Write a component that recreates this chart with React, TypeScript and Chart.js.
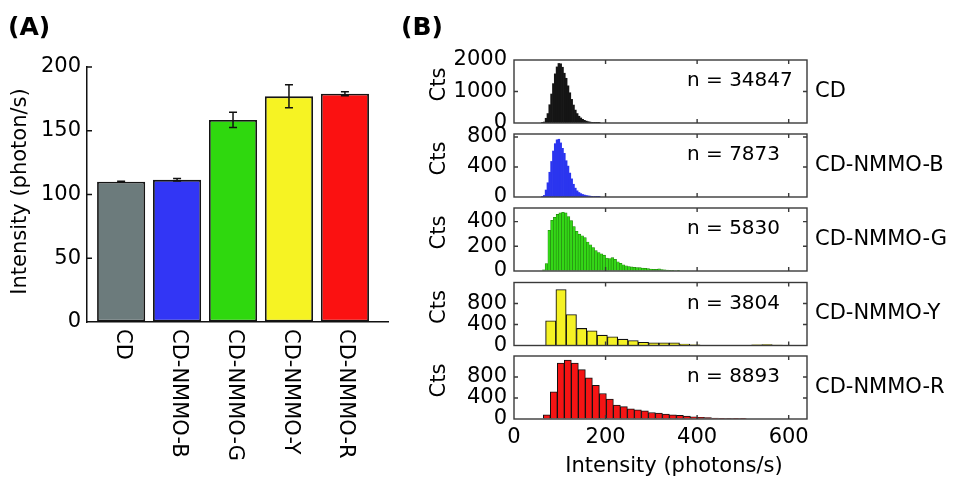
import React, { useEffect, useRef } from "react";
import { Chart, registerables } from "chart.js";

Chart.register(...registerables);

const FONT = "'DejaVu Sans', 'Liberation Sans', sans-serif";
Chart.defaults.font.family = FONT;
Chart.defaults.color = "#000";

const PAGE_W = 967;
const PAGE_H = 478;

// ---------- Panel (A) data ----------
const barCategories = ["CD", "CD-NMMO-B", "CD-NMMO-G", "CD-NMMO-Y", "CD-NMMO-R"];
const barValues = [110, 111.5, 158.5, 177, 179];
const barErrors = [0.3, 1, 6, 9, 1.5];
const barColors = ["#6c7b7c", "#3236f5", "#2fd80e", "#f6f323", "#fb1111"];
const barYTicks = [0, 50, 100, 150, 200];

// ---------- Panel (B) data ----------
const histXTicks = [0, 200, 400, 600];
const histNames = ["CD", "CD-NMMO-B", "CD-NMMO-G", "CD-NMMO-Y", "CD-NMMO-R"];
const histN = ["n = 34847", "n = 7873", "n = 5830", "n = 3804", "n = 8893"];
const histYMax = [2000, 840, 510, 1200, 1200];
const cdYTicks = [0, 1000, 2000];
const blueYTicks = [0, 400, 800];
const greenYTicks = [0, 200, 400];
const yellowYTicks = [0, 400, 800];
const redYTicks = [0, 400, 800];

const cdBins = [62, 66, 70, 74, 78, 82, 86, 90, 94, 98, 102, 106, 110, 114, 118, 122, 126, 130, 134, 138, 142, 146, 150, 154, 158, 162, 166, 170, 174, 178, 182, 186];
const cdCounts = [5, 30, 150, 300, 580, 920, 1250, 1560, 1780, 1890, 1880, 1770, 1580, 1420, 1180, 960, 750, 570, 410, 300, 215, 160, 117, 85, 60, 42, 30, 20, 12, 8, 5, 3];

const blueBins = [62, 66, 70, 74, 78, 82, 86, 90, 94, 98, 102, 106, 110, 114, 118, 122, 126, 130, 134, 138, 142, 146, 150, 154, 158, 162, 166, 170, 174, 178, 182, 186];
const blueCounts = [3, 21, 93, 190, 330, 474, 613, 711, 762, 770, 721, 649, 582, 484, 412, 319, 242, 170, 118, 82, 60, 45, 34, 26, 20, 15, 12, 9, 7, 5, 4, 3];

const greenBins = [65, 71, 77, 83, 89, 95, 101, 107, 113, 119, 125, 131, 137, 143, 149, 155, 161, 167, 173, 179, 185, 191, 197, 203, 209, 215, 221, 227, 233, 239, 245, 251, 257, 263, 269, 275, 281, 287, 293, 299, 305, 311, 317, 323, 329, 335, 341, 347, 353, 359];
const greenCounts = [10, 60, 330, 410, 435, 458, 470, 475, 470, 440, 408, 360, 322, 298, 285, 270, 235, 212, 190, 165, 150, 140, 128, 105, 100, 108, 95, 75, 62, 50, 42, 36, 33, 30, 28, 27, 24, 22, 19, 16, 14, 14, 17, 12, 9, 8, 6, 5, 4, 3];

const yellowBins = [80.25, 102.75, 125.25, 147.75, 170.25, 192.75, 215.25, 237.75, 260.25, 282.75, 305.25, 327.75, 350.25, 372.75, 395.25, 417.75, 440.25, 462.75, 485.25, 507.75, 530.25, 552.75, 575.25, 597.75];
const yellowCounts = [470, 1065, 590, 325, 280, 197, 165, 120, 95, 62, 52, 52, 52, 25, 12, 8, 6, 6, 6, 8, 12, 16, 10, 5];

const redBins = [71.7, 87.0, 102.3, 117.6, 132.9, 148.2, 163.5, 178.8, 194.1, 209.4, 224.7, 240.0, 255.3, 270.6, 285.9, 301.2, 316.5, 331.8, 347.1, 362.4, 377.7, 393.0, 408.3, 423.6, 438.9, 454.2, 469.5, 484.8, 500.1];
const redCounts = [80, 516, 1063, 1120, 1063, 939, 784, 640, 485, 379, 267, 236, 193, 174, 155, 124, 112, 93, 81, 68, 56, 43, 31, 25, 19, 12, 8, 5, 3];

// ---------- layout ----------
const A = { left: 87, right: 388, top: 67, bottom: 322 };
const B = { left: 514, right: 807, tops: [60, 134, 208, 282.5, 356], height: 63 };

const hists = [
  { bins: cdBins, counts: cdCounts, yTicks: cdYTicks, fill: "#151515", border: "#151515", bw: 0 },
  { bins: blueBins, counts: blueCounts, yTicks: blueYTicks, fill: "#2b35ef", border: "#2b35ef", bw: 0 },
  { bins: greenBins, counts: greenCounts, yTicks: greenYTicks, fill: "#33d816", border: "#1f7f0a", bw: 0.6 },
  { bins: yellowBins, counts: yellowCounts, yTicks: yellowYTicks, fill: "#f5f224", border: "#111", bw: 1.1 },
  { bins: redBins, counts: redCounts, yTicks: redYTicks, fill: "#f51414", border: "#111", bw: 1 },
];

const plainTick = (v: any) => String(v);

const panelAPlugin = {
  id: "panelA",
  afterDraw(chart: any) {
    const { ctx, chartArea } = chart;
    const x = chart.scales.x;
    const y = chart.scales.y;
    ctx.save();
    ctx.strokeStyle = "#111";
    ctx.lineWidth = 1.5;
    barValues.forEach((v, i) => {
      const px = x.getPixelForValue(i);
      const y1 = y.getPixelForValue(v + barErrors[i]);
      const y0 = y.getPixelForValue(v - barErrors[i]);
      ctx.beginPath();
      ctx.moveTo(px, y0);
      ctx.lineTo(px, y1);
      ctx.moveTo(px - 4, y0);
      ctx.lineTo(px + 4, y0);
      ctx.moveTo(px - 4, y1);
      ctx.lineTo(px + 4, y1);
      ctx.stroke();
    });
    ctx.beginPath();
    barYTicks.forEach((v) => {
      if (v > 0) {
        const py = y.getPixelForValue(v);
        ctx.moveTo(chartArea.left, py);
        ctx.lineTo(chartArea.left + 5, py);
      }
    });
    ctx.stroke();

    ctx.fillStyle = "#000";
    ctx.font = `21px ${FONT}`;
    ctx.textAlign = "left";
    ctx.textBaseline = "middle";
    barCategories.forEach((c, i) => {
      ctx.save();
      ctx.translate(x.getPixelForValue(i) + 1, chartArea.bottom + 7);
      ctx.rotate(Math.PI / 2);
      ctx.fillText(c, 0, 0);
      ctx.restore();
    });

    ctx.save();
    ctx.translate(21, 191.5);
    ctx.rotate(-Math.PI / 2);
    ctx.textAlign = "center";
    ctx.fillText("Intensity (photon/s)", 0, 0);
    ctx.restore();

    ctx.font = `bold 25px ${FONT}`;
    ctx.textAlign = "left";
    ctx.fillText("(A)", 8, 28);
    ctx.fillText("(B)", 401, 28);
    ctx.restore();
  },
};

function makeBarChart(): any {
  return {
    type: "bar",
    data: {
      datasets: [
        {
          data: barValues.map((v, i) => ({ x: i, y: v })),
          backgroundColor: barColors,
          borderColor: "#151515",
          borderWidth: 1.8,
          borderSkipped: false,
          barPercentage: 0.86,
          categoryPercentage: 1,
        },
      ],
    },
    options: {
      responsive: false,
      animation: false,
      devicePixelRatio: 1,
      layout: { padding: { left: A.left - 60, top: A.top, right: PAGE_W - A.right, bottom: PAGE_H - A.bottom } },
      plugins: { legend: { display: false }, tooltip: { enabled: false } },
      scales: {
        x: {
          type: "linear",
          offset: false,
          min: -0.61,
          max: 4.77,
          afterBuildTicks: (s: any) => {
            s.ticks = barCategories.map((_, i) => ({ value: i }));
          },
          ticks: { display: false },
          grid: { display: true, offset: false, drawOnChartArea: false, drawTicks: false },
          border: { display: true, color: "#111", width: 1.5 },
          afterFit: (s: any) => {
            s.height = 0;
          },
        },
        y: {
          type: "linear",
          min: 0,
          max: 200,
          afterBuildTicks: (s: any) => {
            s.ticks = barYTicks.map((v) => ({ value: v }));
          },
          ticks: { font: { size: 21, family: FONT }, color: "#000", padding: 6, callback: plainTick },
          grid: { display: true, drawOnChartArea: false, drawTicks: false },
          border: { display: true, color: "#111", width: 1.5 },
          afterFit: (s: any) => {
            s.width = 60;
          },
        },
      },
    },
    plugins: [panelAPlugin],
  };
}

function makeHistChart(idx: number): any {
  const h = hists[idx];
  const last = idx === hists.length - 1;
  const top = B.tops[idx];
  const bottom = top + B.height;
  const xAxisH = last ? 40 : 0;
  const plugin = {
    id: "histDecor" + idx,
    afterDraw(chart: any) {
      const { ctx, chartArea } = chart;
      const x = chart.scales.x;
      const y = chart.scales.y;
      ctx.save();
      ctx.strokeStyle = "#3a3a3a";
      ctx.lineWidth = 1.4;
      ctx.strokeRect(chartArea.left, chartArea.top, chartArea.right - chartArea.left, chartArea.bottom - chartArea.top);
      ctx.beginPath();
      histXTicks.forEach((v) => {
        if (v > x.min && v < x.max) {
          const px = x.getPixelForValue(v);
          ctx.moveTo(px, chartArea.bottom);
          ctx.lineTo(px, chartArea.bottom - 4);
          ctx.moveTo(px, chartArea.top);
          ctx.lineTo(px, chartArea.top + 4);
        }
      });
      h.yTicks.forEach((v) => {
        if (v > y.min && v < y.max) {
          const py = y.getPixelForValue(v);
          ctx.moveTo(chartArea.left, py);
          ctx.lineTo(chartArea.left + 4, py);
          ctx.moveTo(chartArea.right, py);
          ctx.lineTo(chartArea.right - 4, py);
        }
      });
      ctx.stroke();

      const cy = (chartArea.top + chartArea.bottom) / 2;
      ctx.fillStyle = "#000";
      ctx.font = `20px ${FONT}`;
      ctx.textAlign = "left";
      ctx.textBaseline = "middle";
      ctx.fillText(histN[idx], 687, chartArea.top + 21);
      ctx.font = `21px ${FONT}`;
      ctx.fillText(histNames[idx], 815, cy);
      ctx.save();
      ctx.translate(440, cy - 7);
      ctx.rotate(-Math.PI / 2);
      ctx.textAlign = "center";
      ctx.fillText("Cts", 0, 0);
      ctx.restore();
      if (last) {
        ctx.textAlign = "center";
        ctx.fillText("Intensity (photons/s)", 674, 467);
      }
      ctx.restore();
    },
  };
  return {
    type: "bar",
    data: {
      datasets: [
        {
          data: h.bins.map((b, i) => ({ x: b, y: h.counts[i] })),
          backgroundColor: h.fill,
          borderColor: h.border,
          borderWidth: h.bw,
          borderSkipped: "start",
          barPercentage: 1,
          categoryPercentage: 1,
        },
      ],
    },
    options: {
      responsive: false,
      animation: false,
      devicePixelRatio: 1,
      layout: { padding: { left: B.left - 80, top: top, right: PAGE_W - B.right, bottom: PAGE_H - bottom - xAxisH } },
      plugins: { legend: { display: false }, tooltip: { enabled: false } },
      scales: {
        x: {
          type: "linear",
          offset: false,
          min: 0,
          max: 640,
          afterBuildTicks: (s: any) => {
            s.ticks = histXTicks.map((v) => ({ value: v }));
          },
          ticks: { display: last, font: { size: 21, family: FONT }, color: "#000", padding: 6, maxRotation: 0, callback: plainTick },
          grid: { display: true, offset: false, drawOnChartArea: false, drawTicks: false },
          border: { display: false },
          afterFit: (s: any) => {
            s.height = xAxisH;
          },
        },
        y: {
          type: "linear",
          min: 0,
          max: histYMax[idx],
          afterBuildTicks: (s: any) => {
            s.ticks = h.yTicks.map((v) => ({ value: v }));
          },
          ticks: { font: { size: 21, family: FONT }, color: "#000", padding: 7, callback: plainTick },
          grid: { display: true, drawOnChartArea: false, drawTicks: false },
          border: { display: false },
          afterFit: (s: any) => {
            s.width = 80;
          },
        },
      },
    },
    plugins: [plugin],
  };
}

function ChartLayer({ make }: { make: () => any }) {
  const ref = useRef<HTMLCanvasElement>(null);
  useEffect(() => {
    const c = ref.current;
    if (!c) return;
    const chart = new Chart(c, make());
    return () => chart.destroy();
  }, []);
  return (
    <canvas
      ref={ref}
      width={PAGE_W}
      height={PAGE_H}
      style={{ position: "absolute", left: 0, top: 0, width: PAGE_W, height: PAGE_H }}
    />
  );
}

export default function App() {
  return (
    <div style={{ position: "absolute", left: 0, top: 0, width: PAGE_W, height: PAGE_H, background: "#fff" }}>
      <ChartLayer make={makeBarChart} />
      {hists.map((_, i) => (
        <ChartLayer key={i} make={() => makeHistChart(i)} />
      ))}
    </div>
  );
}
